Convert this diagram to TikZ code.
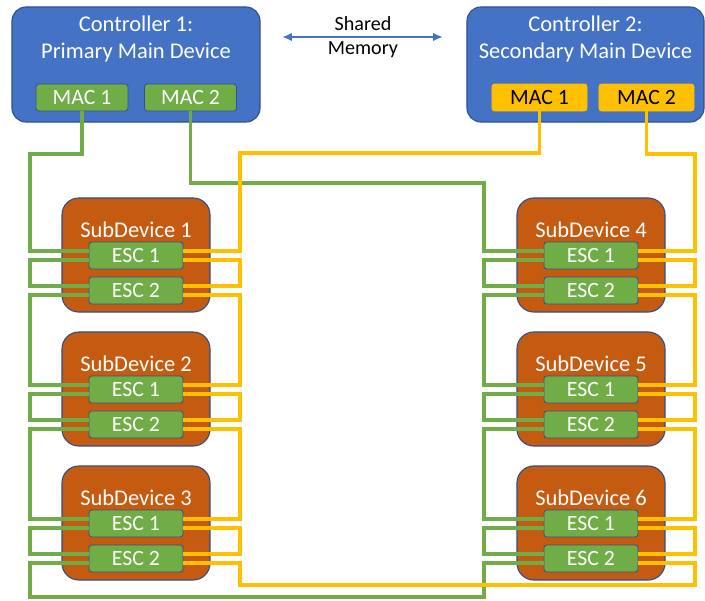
\documentclass[tikz,border=0pt]{standalone}
\usepackage{fontspec}
\setmainfont{Carlito}
\usetikzlibrary{arrows.meta}

\definecolor{ctrlblue}{HTML}{4472C4}
\definecolor{edgeblue}{HTML}{2F528F}
\definecolor{subrust}{HTML}{C55A11}
\definecolor{portgreen}{HTML}{70AD47}
\definecolor{portyellow}{HTML}{FFC000}

\tikzset{
  ctrl/.style={draw=edgeblue, line width=0.8pt, fill=ctrlblue, rounded corners=10pt,
    minimum width=6.2cm, minimum height=2.875cm, inner sep=0pt},
  ctrltext/.style={text=white, align=center, font=\fontsize{16}{19.2}\selectfont},
  macg/.style={draw=edgeblue, line width=0.6pt, fill=portgreen, rounded corners=2pt,
    minimum width=2.3cm, minimum height=0.675cm, inner sep=0pt, text=white,
    font=\fontsize{15.5}{18}\selectfont},
  macy/.style={macg, draw=portyellow, fill=portyellow, text=black, minimum width=2.375cm},
  subdev/.style={draw=edgeblue, line width=0.8pt, fill=subrust, rounded corners=12pt,
    minimum width=3.7cm, minimum height=2.85cm, inner sep=0pt},
  subtext/.style={text=white, font=\fontsize{16}{19}\selectfont},
  esc/.style={macg, minimum width=2.35cm},
  gwire/.style={draw=portgreen, line width=2.2pt},
  ywire/.style={draw=portyellow, line width=2.2pt},
  memarrow/.style={draw=ctrlblue, line width=1.4pt,
    {Latex[length=7pt,width=6pt]}-{Latex[length=7pt,width=6pt]}},
  note/.style={align=center, font=\fontsize{14.3}{17}\selectfont}
}

\begin{document}
\begin{tikzpicture}[x=0.025cm, y=-0.025cm]
  \useasboundingbox (0,0) rectangle (705,600);

  % controllers
  \node[ctrl] (c1) at (136,64.5) {};
  \node[ctrltext] (c1t) at (136,38.5) {Controller 1:\\Primary Main Device};
  \node[macg] (c1m1) at (82,97.5) {MAC 1};
  \node[macg] (c1m2) at (190.5,97.5) {MAC 2};

  \node[ctrl, minimum width=5.925cm] (c2) at (585.5,64.5) {};
  \node[ctrltext] (c2t) at (585.5,38.5) {Controller 2:\\Secondary Main Device};
  \node[macy] (c2m1) at (539.5,97.5) {MAC 1};
  \node[macy] (c2m2) at (646.5,97.5) {MAC 2};

  \coordinate (ml) at (282,37);
  \coordinate (mr) at (443,37);
  \draw[memarrow] (ml) -- (mr);
  \node[note] (shm) at (363,37) {Shared\\Memory};

  % subdevices with two ESC ports each
  \foreach \s/\x/\y in {1/136/255, 2/136/389, 3/136/523, 4/591/255, 5/591/389, 6/591/523} {
    \node[subdev] (sd\s) at (\x,\y) {};
    \node[subtext] (sd\s t) at (\x,\y-25) {SubDevice \s};
    \node[esc] (sd\s e1) at (\x,\y+0.5) {ESC 1};
    \node[esc] (sd\s e2) at (\x,\y+35.5) {ESC 2};
    \foreach \e in {e1,e2} {
      \coordinate (sd\s\e-lu) at ([yshift=3.2pt]sd\s\e.west);
      \coordinate (sd\s\e-ll) at ([yshift=-3.2pt]sd\s\e.west);
      \coordinate (sd\s\e-ru) at ([yshift=3.2pt]sd\s\e.east);
      \coordinate (sd\s\e-rl) at ([yshift=-3.2pt]sd\s\e.east);
    }
  }

  % rails for the cable runs
  \coordinate (lg) at (30,0);
  \coordinate (ly) at (240,0);
  \coordinate (rg) at (484,0);
  \coordinate (ry) at (695,0);

  % green ring
  \draw[gwire] (c1m1.south) |- (30,154) |- (sd1e1-lu);
  \draw[gwire] (c1m2.south) |- (484,183) |- (sd4e1-lu);
  \foreach \src/\dst/\rl in {sd1e1/sd1e2/lg, sd1e2/sd2e1/lg, sd2e1/sd2e2/lg,
      sd2e2/sd3e1/lg, sd3e1/sd3e2/lg, sd4e1/sd4e2/rg, sd4e2/sd5e1/rg,
      sd5e1/sd5e2/rg, sd5e2/sd6e1/rg, sd6e1/sd6e2/rg}
    \draw[gwire] (\src-ll) -| (\rl |- \dst-lu) -- (\dst-lu);
  \draw[gwire] (sd3e2-ll) -| (30,597) -| (rg |- sd6e2-ll) -- (sd6e2-ll);

  % yellow ring
  \draw[ywire] (c2m1.south) |- (240,153) |- (sd1e1-ru);
  \draw[ywire] (c2m2.south) |- (695,154) |- (sd4e1-ru);
  \foreach \src/\dst/\rl in {sd1e1/sd1e2/ly, sd1e2/sd2e1/ly, sd2e1/sd2e2/ly,
      sd2e2/sd3e1/ly, sd3e1/sd3e2/ly, sd4e1/sd4e2/ry, sd4e2/sd5e1/ry,
      sd5e1/sd5e2/ry, sd5e2/sd6e1/ry, sd6e1/sd6e2/ry}
    \draw[ywire] (\src-rl) -| (\rl |- \dst-ru) -- (\dst-ru);
  \draw[ywire] (sd3e2-rl) -| (240,585) -| (ry |- sd6e2-rl) -- (sd6e2-rl);
\end{tikzpicture}
\end{document}
